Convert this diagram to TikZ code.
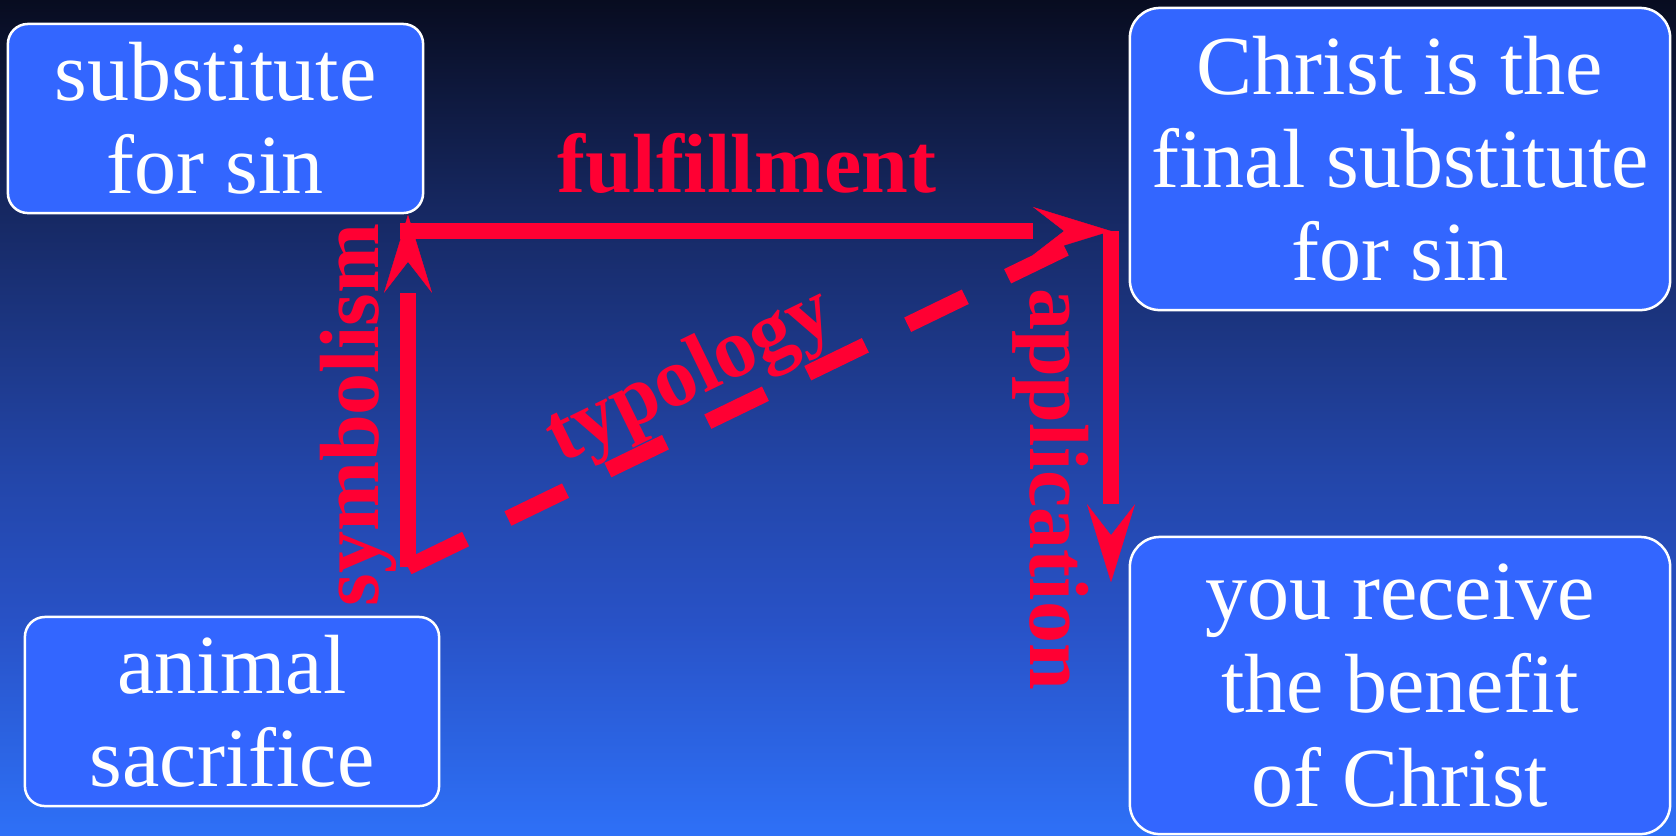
\documentclass[tikz,border=0pt]{standalone}
\usepackage{fontspec}
\setmainfont{Liberation Serif}
\usepackage{xcolor}
\usepackage{tikz}
\usetikzlibrary{arrows.meta, decorations.markings, positioning}
\definecolor{boxBlue}{RGB}{51,102,255}
\definecolor{signalRed}{RGB}{255,0,51}
\pgfdeclareverticalshading{slideBg}{100bp}{rgb(0bp)=(0.18,0.44,0.97); rgb(25bp)=(0.18,0.44,0.97); rgb(37.9bp)=(0.157,0.32,0.776); rgb(46.3bp)=(0.137,0.275,0.667); rgb(62.4bp)=(0.086,0.157,0.384); rgb(75bp)=(0.031,0.047,0.125); rgb(100bp)=(0.031,0.047,0.125)}
\newcommand{\boxFont}{\fontsize{23.9pt}{26.5pt}\selectfont}
\tikzstyle{slideBox} = [draw=white, line width=0.025cm, fill=boxBlue, text=white,
	align=center, font=\boxFont, inner sep=0pt]
\tikzstyle{redLabel} = [text=signalRed, font=\boxFont\bfseries, inner sep=0pt, anchor=base]
\tikzstyle{redArrow} = [draw=signalRed, line width=0.16cm, decoration={markings,mark=at position
	1 with {\arrow{Stealth[length=0.78cm,width=0.48cm,inset=0.31cm,line width=0.1pt,color=signalRed,fill=signalRed]}}},
shorten >= 0.78cm,
preaction = {decorate}]
\tikzstyle{dashLine} = [draw=signalRed, line width=0.16cm, dash pattern=on 0.64cm off 0.47cm]

\begin{document}
\begin{tikzpicture}[x=0.01cm, y=-0.01cm]
		% Hintergrund
		\useasboundingbox (0,0) rectangle (1676,835);
		\shade[shading=slideBg] (0,0) rectangle (1676,835);
		
		% nodes
		\node[slideBox, minimum width=4.15cm, minimum height=1.89cm, rounded corners=0.2cm] (sub) at (215.5,118.5) {substitute\\for sin};	% oben links
		\node[slideBox, minimum width=4.14cm, minimum height=1.89cm, rounded corners=0.2cm] (anim) at (232,711.5) {animal\\sacrifice};		% unten links
		\node[slideBox, minimum width=5.40cm, minimum height=3.02cm, rounded corners=0.3cm] (christ) at (1400,159) {Christ is the\\final substitute\\for sin};	% oben rechts
		\node[slideBox, minimum width=5.40cm, minimum height=2.97cm, rounded corners=0.3cm] (ben) at (1400,685.5) {you receive\\the benefit\\of Christ};	% unten rechts
		
		\coordinate (sym-bot) at (408,567);					% Ecke unten links
		\coordinate[above=3.52cm of sym-bot] (sym-top);		% Spitze symbolism
		\coordinate (ful-beg) at (400,231);					% Anfang fulfillment
		\coordinate (ful-end) at (1111,231);				% Ecke oben rechts
		\coordinate[below=3.51cm of ful-end] (app-end);		% Spitze application
		\coordinate (typ-end) at (1070,246);				% Ende typology
		
		% arrows
		\draw[dashLine] (sym-bot) -- (typ-end);
		\draw[redArrow] (sym-bot) -- (sym-top);
		\draw[redArrow] (ful-beg) -- (ful-end);
		\draw[redArrow] (ful-end) -- (app-end);
		
		% labels
		\node[redLabel] (ful-lab) at (747,192) {fulfillment};
		\node[redLabel, rotate=90] (sym-lab) at (378,415) {symbolism};
		\node[redLabel, rotate=-90] (app-lab) at (1030,489) {application};
		\node[redLabel, rotate=26] (typ-lab) at (700,396) {typology};
\end{tikzpicture}
\end{document}
